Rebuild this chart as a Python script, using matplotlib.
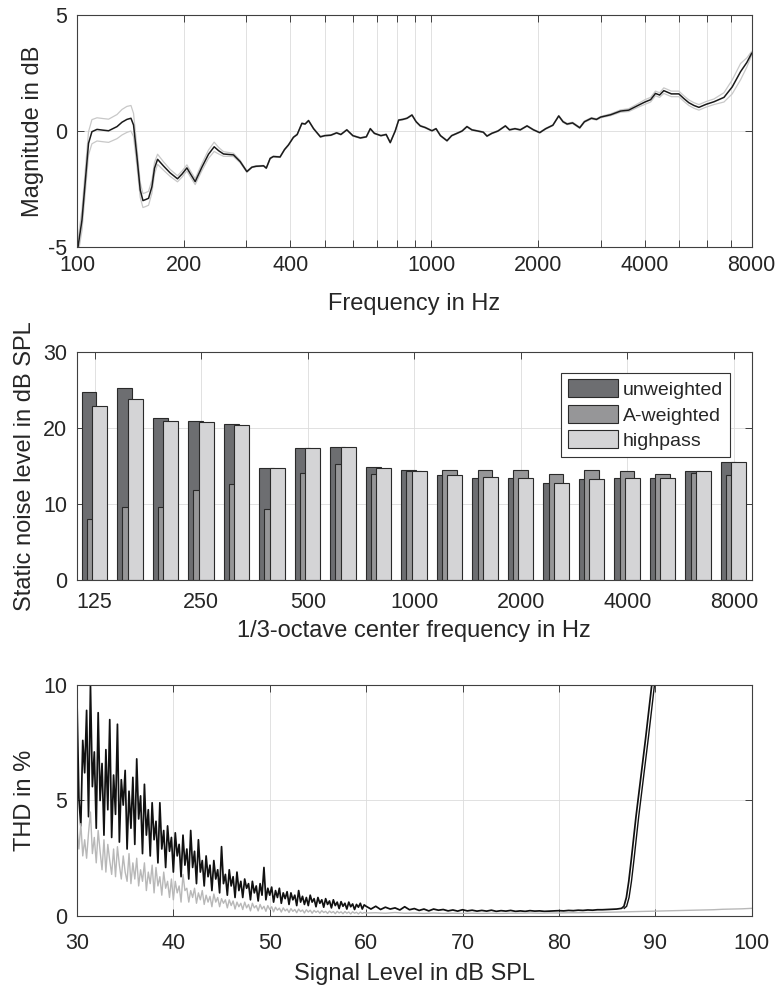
"""
Drei Messdiagramme: Frequenzgang, Ruhegeräuschpegel in Terzbändern und
Klirrfaktor über dem Signalpegel.
"""

import numpy as np
import matplotlib
matplotlib.use('Agg')
import matplotlib.pyplot as plt

plt.rcParams['font.family'] = ['Liberation Sans', 'DejaVu Sans']
plt.rcParams['axes.unicode_minus'] = False

TEXT = '#262626'

# --- Frequenzgang (Mittelwert und Streuung) ---
freq_hz = [100, 103.3, 107.8, 110.2, 113.9, 118, 122.8, 129.7, 134, 138.3,
           142.0, 144.4, 147.6, 150.8, 153.5, 156.5, 159.2, 162.7, 165.5, 168.8,
           175.5, 183, 192.1, 198, 204.2, 209, 215.5, 225.1, 235, 243.8,
           251, 259.0, 276.4, 288.7, 301.5, 311.5, 320, 328.7, 336, 342,
           350.7, 358, 374, 385, 395, 408, 418, 431, 440, 450,
           465, 486, 500, 520, 540, 555, 577, 600, 630, 655,
           672, 690, 720, 745, 765, 790, 808, 830, 853, 881,
           905, 930, 960, 1003, 1030, 1060, 1106, 1140, 1180, 1220,
           1259, 1300, 1350, 1400, 1434, 1480, 1540, 1616, 1660, 1720,
           1780, 1860, 1940, 2020, 2100, 2200, 2285, 2350, 2413, 2500,
           2619, 2700, 2826, 2920, 3000, 3200, 3414, 3600, 3844, 4000,
           4150, 4283, 4400, 4522, 4750, 4985, 5150, 5320, 5500, 5680,
           5950, 6261, 6683, 7050, 7445, 7750, 8000]
mag_db = [-5.3, -3.84, -0.53, -0.03, 0.07, 0.04, 0.01, 0.19, 0.38, 0.5,
          0.55, 0.26, -1.1, -2.54, -3.0, -2.95, -2.9, -2.4, -1.6, -1.22,
          -1.51, -1.8, -2.06, -1.85, -1.59, -1.85, -2.18, -1.56, -1.0, -0.68,
          -0.85, -0.99, -1.03, -1.32, -1.75, -1.56, -1.52, -1.51, -1.5, -1.6,
          -1.18, -1.1, -1.12, -0.8, -0.6, -0.27, -0.15, 0.33, 0.3, 0.45,
          0.1, -0.25, -0.2, -0.18, -0.08, -0.15, 0.05, -0.2, -0.3, -0.25,
          0.1, -0.1, -0.2, -0.15, -0.5, 0.0, 0.47, 0.5, 0.55, 0.69,
          0.4, 0.22, 0.15, 0.01, 0.1, -0.2, -0.42, -0.2, -0.1, 0.0,
          0.19, 0.05, 0.0, -0.05, -0.22, -0.1, 0.0, 0.22, 0.05, 0.1,
          0.05, 0.22, 0.05, -0.07, 0.1, 0.25, 0.65, 0.4, 0.3, 0.35,
          0.14, 0.4, 0.55, 0.5, 0.6, 0.7, 0.86, 0.9, 1.12, 1.25,
          1.35, 1.62, 1.55, 1.74, 1.6, 1.6, 1.4, 1.22, 1.1, 1.02,
          1.15, 1.26, 1.45, 1.9, 2.56, 2.95, 3.35]
spread_db = [0.3, 0.45, 0.5, 0.52, 0.5, 0.5, 0.5, 0.52, 0.55, 0.56,
             0.55, 0.5, 0.4, 0.32, 0.3, 0.3, 0.3, 0.28, 0.25, 0.22,
             0.18, 0.15, 0.13, 0.13, 0.13, 0.13, 0.13, 0.15, 0.18, 0.2,
             0.14, 0.1, 0.07, 0.05, 0.03, 0.02, 0.02, 0.02, 0.02, 0.02,
             0.02, 0.02, 0.02, 0.02, 0.02, 0.02, 0.02, 0.02, 0.02, 0.02,
             0.02, 0.02, 0.02, 0.02, 0.02, 0.02, 0.02, 0.02, 0.02, 0.02,
             0.02, 0.02, 0.02, 0.02, 0.02, 0.02, 0.02, 0.02, 0.02, 0.02,
             0.02, 0.02, 0.02, 0.02, 0.02, 0.02, 0.02, 0.02, 0.02, 0.02,
             0.02, 0.02, 0.02, 0.02, 0.02, 0.02, 0.02, 0.02, 0.02, 0.02,
             0.02, 0.02, 0.02, 0.02, 0.02, 0.02, 0.02, 0.03, 0.03, 0.03,
             0.03, 0.03, 0.03, 0.03, 0.03, 0.04, 0.05, 0.06, 0.08, 0.1,
             0.1, 0.1, 0.1, 0.12, 0.12, 0.12, 0.12, 0.12, 0.12, 0.12,
             0.12, 0.12, 0.2, 0.3, 0.35, 0.2, 0.08]
freq_ticks = [100, 200, 400, 1000, 2000, 4000, 8000]
freq_minor = [300, 500, 600, 700, 800, 900, 3000, 5000, 6000, 7000]

# --- Ruhegeräusch in Terzbändern ---
bands_hz = [125, 160, 200, 250, 315, 400, 500, 630, 800, 1000,
            1250, 1600, 2000, 2500, 3150, 4000, 5000, 6300, 8000]
noise_unweighted = [24.75, 25.2, 21.25, 20.9, 20.45, 14.7, 17.4, 17.5, 14.8, 14.4,
                    13.85, 13.45, 13.4, 12.74, 13.27, 13.36, 13.45, 14.37, 15.5]
noise_aweighted = [7.97, 9.55, 9.6, 11.8, 12.57, 9.37, 14.1, 15.2, 13.9, 14.3,
                   14.4, 14.4, 14.5, 13.97, 14.4, 14.27, 13.88, 14.06, 13.8]
noise_highpass = [22.9, 23.8, 20.85, 20.7, 20.37, 14.67, 17.35, 17.48, 14.76, 14.37,
                  13.85, 13.5, 13.35, 12.7, 13.23, 13.36, 13.4, 14.37, 15.5]
band_tick_labels = ['125', '250', '500', '1000', '2000', '4000', '8000']

# --- Klirrfaktor (30 ... 60 dB in 0.2-dB-Schritten, danach gröber) ---
thd_black_low = [9.4, 5.1, 3.9, 7.6, 6.2, 8.9, 4.3, 10.0, 5.6, 7.1,
                 3.8, 8.8, 5.0, 6.6, 3.5, 7.2, 4.6, 8.5, 3.4, 6.1,
                 4.4, 8.3, 3.2, 5.9, 4.8, 6.3, 2.9, 5.4, 3.8, 6.0,
                 3.1, 6.8, 4.2, 5.2, 2.7, 5.7, 3.5, 4.6, 2.6, 4.9,
                 3.3, 4.1, 2.3, 4.9, 2.9, 3.7, 2.1, 3.9, 2.8, 3.4,
                 1.9, 3.6, 2.6, 3.1, 1.7, 3.5, 2.2, 2.9, 1.6, 3.7,
                 2.1, 2.8, 1.4, 3.3, 1.9, 2.4, 1.3, 2.6, 1.7, 2.2,
                 1.1, 2.4, 1.6, 2.0, 1.0, 3.0, 1.4, 1.8, 0.9, 2.0,
                 1.3, 1.7, 0.8, 1.9, 1.1, 1.5, 0.8, 1.6, 1.2, 1.4,
                 0.7, 1.5, 1.0, 1.3, 0.65, 1.4, 0.9, 2.1, 0.7, 1.2,
                 0.9, 1.25, 0.6, 1.1, 0.8, 1.2, 0.55, 1.0, 0.75, 1.05,
                 0.5, 1.0, 0.7, 0.9, 0.45, 1.1, 0.6, 0.85, 0.5, 0.8,
                 0.45, 0.9, 0.6, 0.75, 0.4, 0.8, 0.55, 0.7, 0.38, 0.75,
                 0.5, 0.65, 0.35, 0.7, 0.45, 0.6, 0.32, 0.62, 0.42, 0.55,
                 0.3, 0.6, 0.4, 0.52, 0.28, 0.5, 0.38, 0.55, 0.3, 0.48,
                 0.42]
thd_black_flat = [0.3, 0.42, 0.28, 0.38, 0.3, 0.35, 0.26, 0.4, 0.27, 0.32,
                  0.24, 0.3, 0.22, 0.3, 0.25, 0.28, 0.22, 0.26, 0.21, 0.27,
                  0.22, 0.25, 0.21, 0.24, 0.21, 0.25, 0.2, 0.23, 0.21, 0.24,
                  0.2, 0.22, 0.2, 0.23, 0.21, 0.22, 0.2, 0.21, 0.22, 0.23,
                  0.22, 0.24, 0.23, 0.25, 0.24, 0.26, 0.25, 0.27, 0.27, 0.28,
                  0.29, 0.3]
rise_level_a = [86.5, 86.75, 87.0, 87.25, 87.5, 88.0, 88.5, 89.0, 89.5, 89.8]
rise_level_b = [86.78, 87.03, 87.28, 87.53, 87.78, 88.28, 88.78, 89.28, 89.78, 90.08]
thd_rise = [0.33, 0.42, 0.8, 1.5, 2.4, 4.3, 6.0, 7.7, 9.5, 10.6]

thd_gray_low = [3.8, 2.9, 4.0, 2.6, 3.3, 2.5, 3.6, 4.5, 2.7, 3.4,
                2.3, 3.7, 2.8, 2.0, 3.3, 1.9, 3.1, 2.4, 1.8, 2.9,
                1.7, 3.0, 2.2, 1.6, 2.6, 1.9, 1.5, 2.7, 1.4, 2.3,
                1.6, 2.5, 1.3, 2.0, 1.5, 2.3, 1.1, 1.9, 1.4, 2.2,
                1.0, 2.1, 1.3, 1.7, 0.9, 1.9, 1.2, 1.5, 0.8, 1.6,
                0.7, 1.5, 1.0, 1.3, 0.6, 1.8, 1.1, 1.2, 0.6, 1.1,
                0.8, 1.2, 0.55, 1.0, 0.7, 1.1, 0.5, 0.9, 0.6, 0.85,
                0.4, 0.95, 0.6, 0.8, 0.4, 0.75, 0.55, 0.7, 0.35, 0.7,
                0.45, 0.65, 0.3, 0.6, 0.4, 0.55, 0.28, 0.6, 0.35, 0.5,
                0.22, 0.55, 0.35, 0.45, 0.22, 0.5, 0.3, 0.42, 0.2, 0.45,
                0.28, 0.4, 0.18, 0.38, 0.25, 0.34, 0.17, 0.35, 0.22, 0.3,
                0.15, 0.32, 0.2, 0.28, 0.14, 0.3, 0.19, 0.26, 0.13, 0.27,
                0.17, 0.25, 0.12, 0.24, 0.16, 0.22, 0.12, 0.23, 0.15, 0.2,
                0.11, 0.21, 0.14, 0.19, 0.1, 0.2, 0.13, 0.18, 0.1, 0.19,
                0.12, 0.17, 0.09, 0.18, 0.12, 0.16, 0.09, 0.17, 0.11, 0.15,
                0.13]
thd_gray_tail = [0.14, 0.12, 0.15, 0.12, 0.13, 0.11, 0.13, 0.11, 0.12, 0.11,
                 0.12, 0.11, 0.12, 0.11, 0.12, 0.12, 0.13, 0.12, 0.13, 0.13,
                 0.14, 0.14, 0.15, 0.15, 0.16, 0.17, 0.18, 0.19, 0.2, 0.21,
                 0.22, 0.23, 0.24, 0.25, 0.26, 0.27, 0.29, 0.3, 0.31, 0.33]


def style_axes(ax, xpad=5):
    """Achsen im Stil der Messsoftware: Ticks nach innen, Rahmen, helles Gitter."""
    ax.tick_params(which='both', direction='in', length=5, width=0.6,
                   top=True, right=True, labelsize=15.5, colors=TEXT)
    ax.tick_params(axis='x', pad=xpad)
    ax.tick_params(axis='y', pad=7)
    for s in ax.spines.values():
        s.set_color('#404040')
        s.set_linewidth(0.8)
    ax.grid(True, which='both', color='#dcdcdc', lw=0.6)
    ax.set_axisbelow(True)


fig = plt.figure(figsize=(7.79, 9.88), dpi=100)

# Frequenzgang
ax1 = fig.add_axes([0.0988, 0.750, 0.8661, 0.2348])
mag = np.array(mag_db)
spread = np.array(spread_db)
ax1.plot(freq_hz, mag + spread, color='#c8c8c8', lw=0.9)
ax1.plot(freq_hz, mag - spread, color='#c8c8c8', lw=0.9)
ax1.plot(freq_hz, mag, color='#1a1a1a', lw=1.1)
ax1.set_xscale('log')
ax1.set_xlim(100, 8000)
ax1.set_ylim(-5, 5)
ax1.set_xticks(freq_ticks)
ax1.set_xticklabels([str(f) for f in freq_ticks])
ax1.set_xticks(freq_minor, minor=True)
ax1.xaxis.set_minor_formatter(matplotlib.ticker.NullFormatter())
ax1.set_yticks([-5, 0, 5])
style_axes(ax1, xpad=6)
ax1.set_xlabel('Frequency in Hz', fontsize=17, color=TEXT, labelpad=12)
ax1.set_ylabel('Magnitude in dB', fontsize=17, color=TEXT, labelpad=3)

# Ruhegeräusch
ax2 = fig.add_axes([0.0988, 0.4130, 0.8661, 0.2311])
idx = np.arange(len(bands_hz))
w = 0.42
edge = '#2a2a2a'
ax2.bar(idx - 0.16, noise_unweighted, width=w, color='#6d6e71', edgecolor=edge,
        lw=0.8, label='unweighted')
ax2.bar(idx - 0.01, noise_aweighted, width=w, color='#969698', edgecolor=edge,
        lw=0.8, label='A-weighted')
ax2.bar(idx + 0.14, noise_highpass, width=w, color='#d4d4d6', edgecolor=edge,
        lw=0.8, label='highpass')
ax2.set_xlim(-0.5, len(bands_hz) - 0.5)
ax2.set_ylim(0, 30)
ax2.set_xticks(idx[::3])
ax2.set_xticklabels(band_tick_labels)
ax2.set_yticks([0, 10, 20, 30])
style_axes(ax2, xpad=9)
ax2.set_xlabel('1/3-octave center frequency in Hz', fontsize=17, color=TEXT, labelpad=5)
ax2.set_ylabel('Static noise level in dB SPL', fontsize=17, color=TEXT, labelpad=5)
leg = ax2.legend(loc='upper right', bbox_to_anchor=(0.968, 0.908), fontsize=14,
                 fancybox=False, framealpha=1, edgecolor='#333333',
                 handlelength=2.6, handleheight=1.05, handletextpad=0.25,
                 labelspacing=0.3, borderpad=0.35, borderaxespad=0)
leg.get_frame().set_linewidth(0.8)
for t in leg.get_texts():
    t.set_color(TEXT)

# Klirrfaktor
ax3 = fig.add_axes([0.0988, 0.0729, 0.8661, 0.2338])
lvl_low = np.linspace(30, 60, len(thd_black_low))
lvl_flat = np.linspace(60.5, 86, len(thd_black_flat))
lvl_gray_tail = np.linspace(61, 100, len(thd_gray_tail))
ax3.plot(np.concatenate([lvl_low, lvl_flat, rise_level_a]),
         thd_black_low + thd_black_flat + thd_rise, color='#111111', lw=1.25)
ax3.plot(rise_level_b, thd_rise, color='#111111', lw=1.0)
ax3.plot(np.concatenate([lvl_low, lvl_gray_tail]), thd_gray_low + thd_gray_tail,
         color='#b8b8b8', lw=1.0)
ax3.set_xlim(30, 100)
ax3.set_ylim(0, 10)
ax3.set_xticks(np.arange(30, 101, 10))
ax3.set_yticks([0, 5, 10])
style_axes(ax3, xpad=12)
ax3.set_xlabel('Signal Level in dB SPL', fontsize=17, color=TEXT, labelpad=7)
ax3.set_ylabel('THD in %', fontsize=17, color=TEXT, labelpad=5)

fig.savefig('out.png', dpi=100)
